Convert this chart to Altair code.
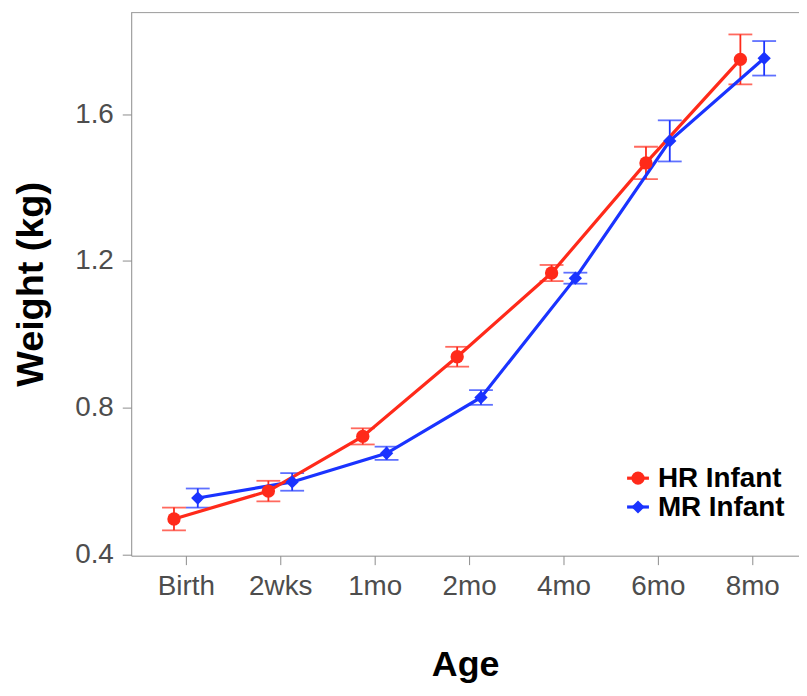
import json
import altair as alt
import pandas as pd

ages = ["Birth", "2wks", "1mo", "2mo", "4mo", "6mo", "8mo"]
groups = ["HR Infant", "MR Infant"]
hr_mean = [0.497, 0.573, 0.722, 0.939, 1.167, 1.467, 1.749]
hr_err = [0.031, 0.028, 0.022, 0.027, 0.022, 0.044, 0.068]
mr_mean = [0.554, 0.598, 0.676, 0.828, 1.153, 1.527, 1.752]
mr_err = [0.026, 0.024, 0.018, 0.020, 0.015, 0.056, 0.047]

RED = "#FF2A1A"
BLUE = "#1A33FF"
colors = [RED, BLUE]

rows = []
# MR first so that the HR series is drawn on top
for g, means, errs in [(groups[1], mr_mean, mr_err), (groups[0], hr_mean, hr_err)]:
    for i, (a, m, e) in enumerate(zip(ages, means, errs)):
        rows.append({"age": a, "idx": i, "group": g, "weight": m, "lo": m - e, "hi": m + e})
df = pd.DataFrame(rows)

W, H = 672, 547
label_expr = json.dumps(ages) + "[datum.value]"

base = alt.Chart(df).transform_calculate(
    xpos="datum.idx + (datum.group == '%s' ? -0.126 : 0.126)" % groups[0]
)

xenc = alt.X(
    "xpos:Q",
    scale=alt.Scale(domain=[-0.579, 6.495], nice=False, zero=False),
    axis=alt.Axis(
        values=list(range(len(ages))),
        labelExpr=label_expr,
        title="Age",
        titleY=121,
        titleBaseline="alphabetic",
        titleFontSize=36,
        labelPadding=8,
    ),
)
yscale = alt.Scale(domain=[0.397, 1.8778], nice=False, zero=False)
yenc = alt.Y(
    "weight:Q",
    scale=yscale,
    axis=alt.Axis(
        values=[0.4, 0.8, 1.2, 1.6],
        format=".1f",
        title="Weight (kg)",
        titleX=-89,
        titleY=H / 2,
        titleBaseline="alphabetic",
        titleFontSize=38,
        labelPadding=9,
    ),
)
cenc = alt.Color("group:N", scale=alt.Scale(domain=groups, range=colors), legend=None)

err_rule = base.mark_rule(strokeWidth=1.8).encode(
    x=xenc, y=alt.Y("lo:Q", scale=yscale), y2="hi:Q", color=cenc
)
cap_lo = base.mark_tick(orient="horizontal", size=24, thickness=1.8).encode(
    x=xenc, y=alt.Y("lo:Q", scale=yscale), color=cenc
)
cap_hi = base.mark_tick(orient="horizontal", size=24, thickness=1.8).encode(
    x=xenc, y=alt.Y("hi:Q", scale=yscale), color=cenc
)
lines = base.mark_line(strokeWidth=3.2).encode(x=xenc, y=yenc, color=cenc, detail="group:N")
points = base.mark_point(filled=True, opacity=1, size=180).encode(
    x=xenc,
    y=yenc,
    color=cenc,
    shape=alt.Shape("group:N", scale=alt.Scale(domain=groups, range=["circle", "diamond"]), legend=None),
)

one = pd.DataFrame({"k": [0]})
top_border = alt.Chart(one).mark_rule(color="#999999", strokeWidth=1).encode(
    x=alt.value(0), x2=alt.value(W), y=alt.value(0.5)
)

legend_layers = []
for g, col, shp, ly in [(groups[0], RED, "circle", 469), (groups[1], BLUE, "diamond", 498)]:
    legend_layers.append(
        alt.Chart(one).mark_rule(color=col, strokeWidth=3.2).encode(
            x=alt.value(499), x2=alt.value(521), y=alt.value(ly)
        )
    )
    legend_layers.append(
        alt.Chart(one).mark_point(filled=True, opacity=1, color=col, shape=shp, size=175).encode(
            x=alt.value(510), y=alt.value(ly)
        )
    )
    legend_layers.append(
        alt.Chart(one).mark_text(
            align="left", baseline="middle", fontSize=28, fontWeight="bold", color="black",
            font="Liberation Sans",
        ).encode(x=alt.value(530), y=alt.value(ly + 1), text=alt.value(g))
    )

chart = alt.layer(
    top_border, err_rule, cap_lo, cap_hi, lines, points, *legend_layers
).properties(
    width=W,
    height=H,
    autosize=alt.AutoSizeParams(type="none"),
    padding={"left": 124, "top": 2, "right": 0, "bottom": 131},
).configure(
    font="Liberation Sans"
).configure_view(
    stroke=None
).configure_axis(
    grid=False,
    domainColor="#8c8c8c",
    tickColor="#8c8c8c",
    tickSize=9,
    labelFontSize=28,
    labelColor="#4d4d4d",
    labelFont="Liberation Sans",
    titleFont="Liberation Sans",
    titleFontWeight="bold",
    titleColor="black",
)

chart.save("out.html", embed_options={"renderer": "svg", "actions": False})
